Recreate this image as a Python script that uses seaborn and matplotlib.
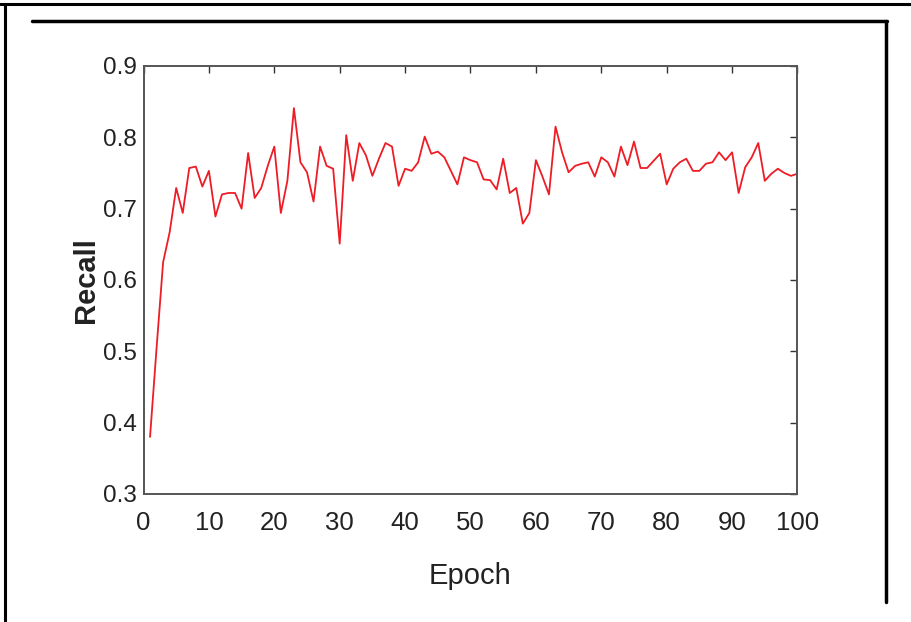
import matplotlib
matplotlib.use("Agg")
import matplotlib.pyplot as plt
from matplotlib.lines import Line2D
import seaborn as sns
import pandas as pd

epochs = list(range(1, 101))
recall = [
    0.380, 0.505, 0.625, 0.667, 0.729, 0.694, 0.757, 0.759, 0.731, 0.753,
    0.689, 0.720, 0.722, 0.722, 0.700, 0.778, 0.715, 0.729, 0.760, 0.787,
    0.694, 0.739, 0.841, 0.765, 0.751, 0.710, 0.787, 0.760, 0.756, 0.651,
    0.803, 0.739, 0.792, 0.775, 0.746, 0.770, 0.792, 0.787, 0.732, 0.756,
    0.753, 0.765, 0.801, 0.777, 0.780, 0.772, 0.753, 0.734, 0.772, 0.768,
    0.765, 0.741, 0.740, 0.727, 0.770, 0.722, 0.729, 0.679, 0.694, 0.768,
    0.745, 0.720, 0.815, 0.779, 0.751, 0.760, 0.763, 0.765, 0.745, 0.772,
    0.765, 0.745, 0.787, 0.761, 0.794, 0.757, 0.757, 0.767, 0.777, 0.734,
    0.756, 0.765, 0.770, 0.753, 0.753, 0.763, 0.765, 0.779, 0.768, 0.779,
    0.722, 0.758, 0.772, 0.792, 0.739, 0.749, 0.756, 0.750, 0.746, 0.749,
]
xticks = [0, 10, 20, 30, 40, 50, 60, 70, 80, 90, 100]
yticks = [0.3, 0.4, 0.5, 0.6, 0.7, 0.8, 0.9]

df = pd.DataFrame({"Epoch": epochs, "Recall": recall})

sns.set_theme(style="white")
plt.rcParams["font.family"] = ["Liberation Sans Narrow", "Liberation Sans", "DejaVu Sans"]

W, H = 911, 622
fig = plt.figure(figsize=(W / 100, H / 100), dpi=100)
fig.patch.set_facecolor("white")
l, r, t, b = 143.5, 797.5, 66, 494
ax = fig.add_axes([l / W, 1 - b / H, (r - l) / W, (b - t) / H])

sns.lineplot(data=df, x="Epoch", y="Recall", ax=ax, color="#ee1c25", linewidth=1.3)

ax.set_xlim(0, 100)
ax.set_ylim(0.3, 0.9)
ax.set_xticks(xticks)
ax.set_xticklabels([str(v) for v in xticks])
ax.set_yticks(yticks)
ax.set_yticklabels([f"{v:.1f}" for v in yticks])
ax.tick_params(direction="in", length=5, width=1, color="#333333",
               top=True, right=True, labelcolor="#222222")
ax.tick_params(axis="x", pad=12, labelsize=18.5)
ax.tick_params(axis="y", pad=5, labelsize=17.5)
for s in ax.spines.values():
    s.set_visible(True)
    s.set_color("#555555")
    s.set_linewidth(1.4)
ax.set_xlabel("Epoch", fontsize=21, color="#222222", labelpad=20)
ax.set_ylabel("Recall", fontsize=21, color="#222222", fontweight="bold",
              family=["Liberation Sans", "DejaVu Sans"], labelpad=2)

def fline(x0, y0, x1, y1, lw):
    fig.add_artist(Line2D([x0 / W, x1 / W], [1 - y0 / H, 1 - y1 / H],
                          transform=fig.transFigure, color="black", linewidth=lw))

fline(0, 4, W, 4, 2.2)
fline(5, 4, 5, H, 2.2)
fline(32, 21, 887, 21, 2.5)
fline(886, 21, 886, 602, 2.5)

fig.savefig("out.png", dpi=100, facecolor="white")
